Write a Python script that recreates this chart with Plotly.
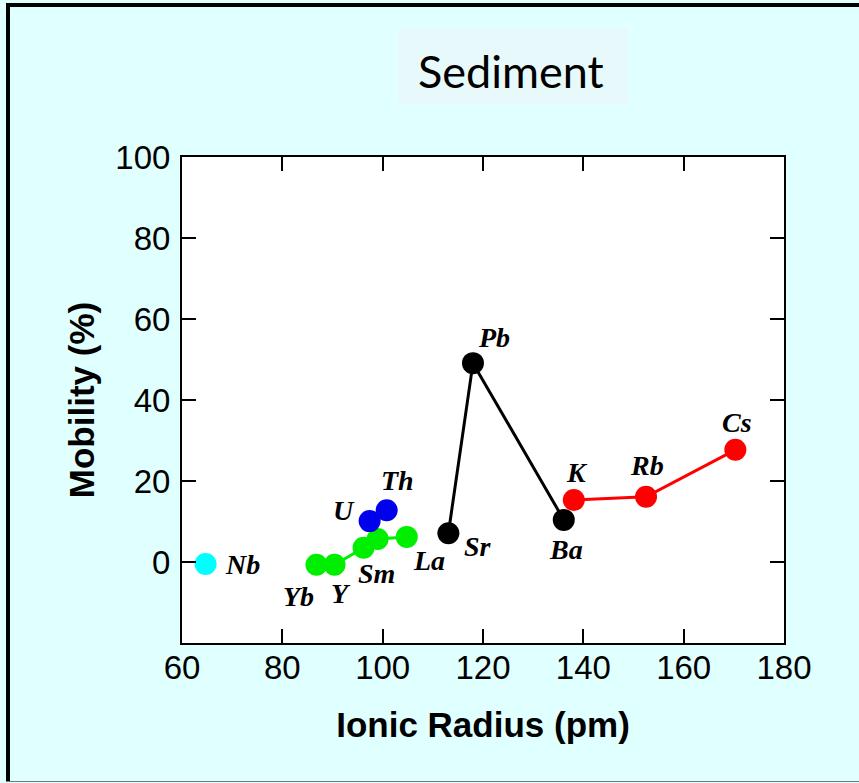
import plotly.graph_objects as go

# Ionic radius (pm) and mobility (%) for each element group
nb_elem = ["Nb"]
nb_radius = [64.7]
nb_mob = [-0.5]

ree_elem = ["Yb", "Y", "Sm", "Nd", "La"]
ree_radius = [86.8, 90.4, 96.2, 99.0, 104.8]
ree_mob = [-0.7, -0.7, 3.5, 5.7, 6.2]

act_elem = ["U", "Th"]
act_radius = [97.4, 100.8]
act_mob = [10.1, 12.8]

alk_earth_elem = ["Sr", "Pb", "Ba"]
alk_earth_radius = [113.1, 118.0, 136.1]
alk_earth_mob = [7.1, 49.1, 10.4]

alk_elem = ["K", "Rb", "Cs"]
alk_radius = [138.1, 152.5, 170.3]
alk_mob = [15.3, 16.1, 27.7]

x_ticks = [60, 80, 100, 120, 140, 160, 180]
y_ticks = [0, 20, 40, 60, 80, 100]

# label offsets in pixels (dx right, dy up) for each element name
label_offsets = {
    "Nb": (37, 0), "Yb": (-18, -32), "Y": (6, -29), "Sm": (13, -26),
    "La": (22, -24), "U": (-26, 11), "Th": (11, 30), "Sr": (30, -13),
    "Pb": (21, 26), "Ba": (2, -30), "K": (3, 28), "Rb": (1, 31), "Cs": (2, 27),
}

groups = [
    (ree_elem, ree_radius, ree_mob, "#00ee00", True),
    (act_elem, act_radius, act_mob, "#0000ee", True),
    (nb_elem, nb_radius, nb_mob, "#00ffff", False),
    (alk_earth_elem, alk_earth_radius, alk_earth_mob, "#000000", True),
    (alk_elem, alk_radius, alk_mob, "#ff0000", True),
]

fig = go.Figure()
annotations = []
for elems, xs, ys, color, joined in groups:
    fig.add_trace(go.Scatter(
        x=xs, y=ys,
        mode="lines+markers" if joined else "markers",
        line=dict(color=color, width=3),
        marker=dict(color=color, size=22, line=dict(width=0)),
        showlegend=False, hoverinfo="skip",
    ))
    for name, xv, yv in zip(elems, xs, ys):
        if name not in label_offsets:
            continue
        dx, dy = label_offsets[name]
        annotations.append(dict(
            x=xv, y=yv, xref="x", yref="y", text=f"<b><i>{name}</i></b>",
            showarrow=False, xshift=dx, yshift=dy,
            xanchor="center", yanchor="middle",
            font=dict(family="Liberation Serif", size=28, color="black"),
        ))


def px_x(p):
    return (p - 182) / 602


def px_y(p):
    return (643 - p) / 486


# header box text
annotations.append(dict(
    x=px_x(511), y=px_y(71), xref="paper", yref="paper",
    xanchor="center", yanchor="middle",
    text="Sediment", showarrow=False,
    font=dict(family="Lato", size=45, color="black"),
))

shapes = [
    # header box
    dict(type="rect", xref="paper", yref="paper",
         x0=px_x(398), x1=px_x(628), y0=px_y(105), y1=px_y(28),
         fillcolor="#e8f9fb", line=dict(width=0), layer="below"),
    # outer frame
    dict(type="line", xref="paper", yref="paper",
         x0=px_x(6), x1=px_x(870), y0=px_y(5), y1=px_y(5),
         line=dict(color="black", width=4)),
    dict(type="line", xref="paper", yref="paper",
         x0=px_x(8), x1=px_x(8), y0=px_y(3), y1=px_y(782),
         line=dict(color="black", width=4)),
    dict(type="line", xref="paper", yref="paper",
         x0=px_x(6), x1=px_x(870), y0=px_y(781.5), y1=px_y(781.5),
         line=dict(color="#777777", width=1)),
]

axis_common = dict(
    showline=True, linecolor="black", linewidth=2, mirror="ticks",
    ticks="inside", ticklen=14, tickwidth=2, tickcolor="black",
    showgrid=False, zeroline=False,
    tickfont=dict(family="Liberation Sans", size=33, color="black"),
)

fig.update_layout(
    width=859, height=783,
    margin=dict(l=182, r=75, t=157, b=140, pad=0),
    paper_bgcolor="#e0ffff", plot_bgcolor="white",
    xaxis=dict(range=[60, 180], tickvals=x_ticks, ticklabelstandoff=-6,
               title=dict(text="<b>Ionic Radius (pm)</b>", standoff=28,
                          font=dict(family="Liberation Sans", size=35, color="black")),
               **axis_common),
    yaxis=dict(range=[-20, 100], tickvals=y_ticks, ticklabelstandoff=3,
               title=dict(text="<b>Mobility (%)</b>", standoff=10,
                          font=dict(family="Liberation Sans", size=35, color="black")),
               **axis_common),
    annotations=annotations,
    shapes=shapes,
)

fig.write_html("out.html")
